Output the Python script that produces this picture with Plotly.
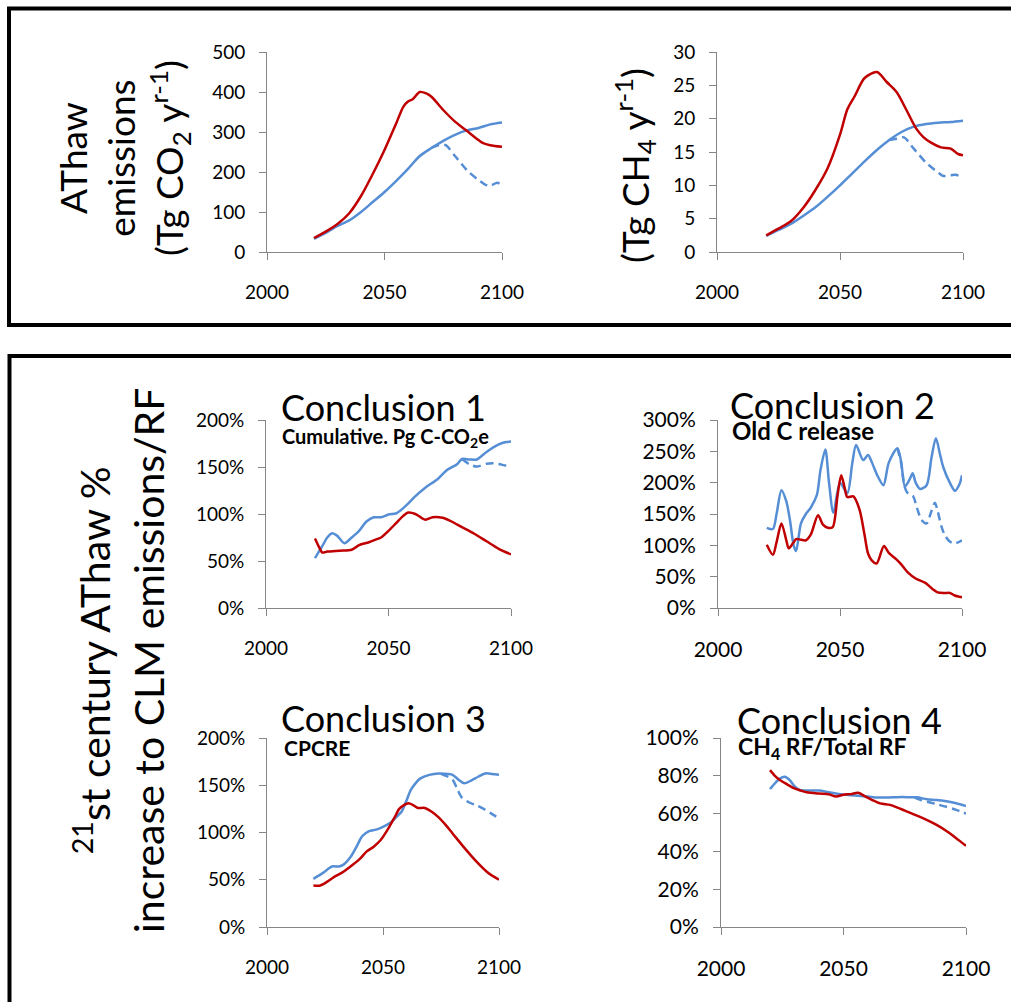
import plotly.graph_objects as go

W, H = 1011, 1002
RED = "#C00000"
BLUE = "#558ED5"
FONT = "Lato"

# ---------------- Panel A: CO2 emissions (Tg CO2 / yr) ----------------
co2_red_years = [2020, 2025, 2030, 2035, 2040, 2045, 2050, 2055, 2058, 2060, 2062, 2065, 2068, 2070, 2075, 2080, 2085, 2090, 2092, 2095, 2100]
co2_red = [35, 51, 70, 97, 140, 195, 255, 322, 363, 376, 382, 400, 396, 388, 355, 326, 303, 280, 272, 267, 263]
co2_blue_years = [2020, 2025, 2030, 2035, 2040, 2045, 2050, 2055, 2060, 2065, 2070, 2075, 2080, 2085, 2090, 2095, 2100]
co2_blue = [33, 48, 65, 79, 100, 125, 150, 178, 208, 240, 260, 278, 293, 304, 310, 319, 324]
co2_dash_years = [2070, 2073, 2076, 2080, 2085, 2090, 2093, 2095, 2098, 2100]
co2_dash = [261, 267, 267, 240, 205, 180, 168, 166, 173, 167]

# ---------------- Panel B: CH4 emissions (Tg CH4 / yr) ----------------
ch4_red_years = [2020, 2025, 2030, 2035, 2040, 2045, 2050, 2053, 2056, 2060, 2065, 2069, 2073, 2077, 2081, 2084, 2087, 2091, 2095, 2098, 2100]
ch4_red = [2.5, 3.5, 4.6, 6.6, 9.3, 12.6, 17.6, 21.4, 23.4, 26.1, 27.0, 25.5, 24.0, 21.3, 18.5, 17.2, 16.4, 15.7, 15.5, 14.7, 14.5]
ch4_blue_years = [2020, 2025, 2030, 2035, 2040, 2045, 2050, 2055, 2060, 2065, 2070, 2075, 2080, 2085, 2090, 2095, 2100]
ch4_blue = [2.4, 3.3, 4.2, 5.4, 6.7, 8.3, 10.0, 11.8, 13.6, 15.3, 16.8, 18.0, 18.8, 19.2, 19.4, 19.5, 19.7]
ch4_dash_years = [2070, 2073, 2076, 2080, 2085, 2090, 2092, 2095, 2097, 2100]
ch4_dash = [16.8, 17.0, 17.2, 15.5, 13.4, 11.9, 11.4, 11.5, 11.6, 11.1]

# ---------------- Conclusion 1: Cumulative Pg C-CO2e (%) ----------------
c1_red_years = [2020, 2022, 2023, 2025, 2030, 2035, 2038, 2042, 2045, 2047, 2050, 2053, 2056, 2058, 2061, 2065, 2068, 2072, 2075, 2080, 2085, 2090, 2095, 2100]
c1_red = [74, 63, 59, 60, 61, 62, 67, 70, 73, 75, 82, 90, 98, 101.5, 100, 94, 96.5, 96, 93, 86, 79, 71, 63, 57]
c1_blue_years = [2020, 2023, 2025, 2027, 2029, 2032, 2035, 2038, 2041, 2044, 2047, 2050, 2053, 2055, 2058, 2061, 2065, 2070, 2074, 2078, 2080, 2083, 2086, 2090, 2095, 2098, 2100]
c1_blue = [53, 66, 75, 79.5, 77, 69, 75, 82, 92, 96.5, 96.5, 99.5, 100.5, 104, 111, 119, 128, 137, 147, 153, 158.5, 158, 158, 166, 174, 176.5, 177]
c1_dash_years = [2080, 2083, 2086, 2090, 2093, 2097, 2100]
c1_dash = [158.5, 153, 150.5, 153.5, 154, 152, 150]

# ---------------- Conclusion 2: Old C release (%) ----------------
c2_red_years = [2020, 2022.5, 2024, 2026, 2028, 2029, 2031, 2032, 2034, 2036, 2038, 2041, 2043, 2045, 2047, 2049, 2050.5, 2052, 2053, 2055.5, 2058, 2060, 2061.5, 2063, 2065, 2068, 2070, 2073, 2075, 2078, 2081, 2085, 2088, 2090, 2093, 2095, 2097, 2100]
c2_red = [101, 85, 105, 135, 108, 95, 105, 110, 109, 108, 117, 148, 133, 128, 129, 180, 212, 190, 177, 178, 157, 118, 87, 76, 71, 99, 88, 78, 70, 56, 47, 40, 30, 25, 24, 24, 20, 17]
c2_blue_years = [2020, 2022.5, 2024, 2026, 2028, 2029.5, 2031, 2032, 2034, 2036, 2038, 2040.5, 2042, 2044, 2045.5, 2047.3, 2050, 2053, 2055, 2056.6, 2059.5, 2061.5, 2063, 2065.5, 2067.8, 2070, 2073.5, 2075, 2076.6, 2078.5, 2079.8, 2081, 2082.8, 2085.5, 2087.5, 2089.3, 2091, 2092.3, 2095, 2097.1, 2099, 2100]
c2_blue = [128, 126, 150, 188, 170, 140, 100, 91, 135, 150, 160, 180, 220, 253, 200, 152, 200, 183, 230, 260, 236, 244, 233, 210, 196, 232, 255, 235, 194, 205, 215, 200, 190, 196, 240, 271, 245, 225, 200, 187, 198, 212]
c2_dash_years = [2073.5, 2075, 2076.6, 2078, 2080, 2081.5, 2083.5, 2085.5, 2087.5, 2088.9, 2090, 2091.6, 2093, 2095, 2097, 2100]
c2_dash = [255, 232, 192, 182, 178, 160, 140, 135, 155, 168, 155, 130, 116, 106, 103, 108]

# ---------------- Conclusion 3: CPCRE (%) ----------------
c3_red_years = [2020, 2023, 2026, 2029, 2032, 2036, 2040, 2043, 2046, 2049, 2052, 2055, 2057, 2059, 2061, 2063, 2065, 2068, 2071, 2074, 2077, 2080, 2085, 2090, 2095, 2100]
c3_red = [44, 44, 48, 53, 57, 64, 72, 80, 85, 92, 103, 116, 125, 129, 131, 129, 126, 126, 122, 116, 108, 99, 84, 70, 58, 50]
c3_blue_years = [2020, 2024, 2028, 2031, 2033, 2036, 2039, 2041, 2044, 2047, 2050, 2053, 2056, 2058, 2060, 2062, 2064, 2066, 2070, 2074, 2078, 2080, 2083, 2085, 2088, 2091, 2094, 2097, 2100]
c3_blue = [51, 57, 64, 64, 66, 74, 87, 96, 101.5, 103, 106, 110, 117, 122, 133, 145, 152, 157, 161, 162.5, 162, 161, 155, 152, 155, 159, 162.5, 162, 161]
c3_dash_years = [2075, 2078, 2080, 2082, 2084, 2087, 2090, 2093, 2096, 2100]
c3_dash = [162, 159, 156, 146, 137, 132, 129, 125.5, 121, 115]

# ---------------- Conclusion 4: CH4 RF / Total RF (%) ----------------
c4_red_years = [2020, 2022, 2024, 2027, 2030, 2033, 2035, 2040, 2044, 2047, 2050, 2053, 2056, 2059, 2062, 2065, 2069, 2072, 2075, 2078, 2081, 2085, 2088, 2092, 2096, 2100]
c4_red = [83, 80, 77.8, 75.5, 73.3, 72, 71.3, 70.6, 70.2, 69, 70, 70.3, 71, 69, 67, 65.4, 64.6, 63.2, 61.6, 60, 58.4, 56, 54, 50.8, 47, 43]
c4_blue_years = [2020, 2022, 2024, 2026, 2028, 2030, 2032, 2036, 2040, 2044, 2048, 2052, 2056, 2060, 2064, 2068, 2072, 2076, 2080, 2084, 2088, 2092, 2096, 2100]
c4_blue = [73, 76, 78.5, 79.5, 77.8, 74.5, 72.5, 72.2, 72.2, 71.3, 70.4, 69.8, 69.4, 69, 68.5, 68.5, 68.7, 68.7, 68.6, 67.6, 67.2, 66.5, 65.5, 64]
c4_dash_years = [2079, 2082, 2085, 2088, 2092, 2096, 2100]
c4_dash = [68.5, 67, 66, 65, 63.6, 62, 60]

# ---------------- Axis / tick settings ----------------
x_ticks = [2000, 2050, 2100]

fig = go.Figure()

panels = [
    # (suffix, red, blue, dash, x px range, y px range, y range, dtick, ticksuffix, fontsize)
    ("", (co2_red_years, co2_red), (co2_blue_years, co2_blue), (co2_dash_years, co2_dash), (267, 502), (52, 252), (0, 500), 100, "", 19),
    ("2", (ch4_red_years, ch4_red), (ch4_blue_years, ch4_blue), (ch4_dash_years, ch4_dash), (717, 963), (52, 252), (0, 30), 5, "", 19),
    ("3", (c1_red_years, c1_red), (c1_blue_years, c1_blue), (c1_dash_years, c1_dash), (266, 511), (420, 608), (0, 200), 50, "%", 19),
    ("4", (c2_red_years, c2_red), (c2_blue_years, c2_blue), (c2_dash_years, c2_dash), (718, 962), (420, 608), (0, 300), 50, "%", 21),
    ("5", (c3_red_years, c3_red), (c3_blue_years, c3_blue), (c3_dash_years, c3_dash), (267, 499), (738, 927), (0, 200), 50, "%", 19),
    ("6", (c4_red_years, c4_red), (c4_blue_years, c4_blue), (c4_dash_years, c4_dash), (721, 966), (738, 927), (0, 100), 20, "%", 21),
]

layout_axes = {}
for suf, red, blue, dash, xpx, ypx, yr, dt, ts, fs in panels:
    xa = "x" + suf
    ya = "y" + suf
    fig.add_trace(go.Scatter(x=dash[0], y=dash[1], mode="lines", xaxis=xa, yaxis=ya,
                             line=dict(color=BLUE, width=2.5, dash="8px,5px", shape="spline", smoothing=0.8),
                             showlegend=False, hoverinfo="skip"))
    fig.add_trace(go.Scatter(x=blue[0], y=blue[1], mode="lines", xaxis=xa, yaxis=ya,
                             line=dict(color=BLUE, width=2.5, shape="spline", smoothing=0.8),
                             showlegend=False, hoverinfo="skip"))
    fig.add_trace(go.Scatter(x=red[0], y=red[1], mode="lines", xaxis=xa, yaxis=ya,
                             line=dict(color=RED, width=2.5, shape="spline", smoothing=0.8),
                             showlegend=False, hoverinfo="skip"))
    common = dict(showgrid=False, zeroline=False, showline=True, linecolor="#868686", linewidth=1,
                  ticks="outside", ticklen=7, tickcolor="#868686", tickwidth=1, automargin=False,
                  tickfont=dict(family=FONT, size=fs, color="black"))
    layout_axes["xaxis" + suf] = dict(common, domain=[xpx[0] / W, xpx[1] / W], range=[2000, 2100],
                                      tickvals=x_ticks, anchor=ya, ticklabelstandoff=16)
    layout_axes["yaxis" + suf] = dict(common, domain=[1 - ypx[1] / H, 1 - ypx[0] / H], range=list(yr),
                                      dtick=dt, tick0=0, ticksuffix=ts, anchor=xa, ticklabelstandoff=10)

fig.update_layout(**layout_axes)

ann = []
def A(text, xpx, ypx, size, xanchor="left", angle=0, bold=False):
    ann.append(dict(text=("<b>%s</b>" % text) if bold else text, x=xpx / W, y=1 - ypx / H,
                    xref="paper", yref="paper", xanchor=xanchor, yanchor="middle", showarrow=False,
                    textangle=angle, font=dict(family=FONT, size=size, color="black")))

A("AThaw<br>emissions<br>(Tg CO<sub>2</sub> y<sup>r-1</sup>)", 124, 158, 37, xanchor="center", angle=-90)
A("(Tg CH<sub>4</sub> y<sup>r-1</sup>)", 635, 166, 37, xanchor="center", angle=-90)
A("<sup>21</sup>st century AThaw %<br>increase to CLM emissions/RF", 119, 661, 41, xanchor="center", angle=-90)

A("Conclusion 1", 279, 407, 36)
A("Conclusion 2", 728, 405, 36)
A("Conclusion 3", 279, 718, 36)
A("Conclusion 4", 735, 720, 36)
A("Cumulative. Pg C-CO<sub>2</sub>e", 280, 437, 20, bold=True)
A("Old C release", 730, 430, 24, bold=True)
A("CPCRE", 282, 747, 21, bold=True)
A("CH<sub>4</sub> RF/Total RF", 736, 747, 23, bold=True)

shapes = [
    dict(type="rect", xref="paper", yref="paper", x0=9 / W, x1=1030 / W, y0=1 - 325 / H, y1=1 - 8.5 / H,
         line=dict(color="black", width=4)),
    dict(type="rect", xref="paper", yref="paper", x0=9.5 / W, x1=1030 / W, y0=1 - 1030 / H, y1=1 - 356 / H,
         line=dict(color="black", width=4)),
]

fig.update_layout(width=W, height=H, margin=dict(l=0, r=0, t=0, b=0, autoexpand=False), paper_bgcolor="white",
                  plot_bgcolor="white", annotations=ann, shapes=shapes, showlegend=False)

fig.write_html("out.html", config={"displayModeBar": False},
               post_script="document.body.style.margin='0';document.body.style.padding='0';document.body.style.overflow='hidden';")
